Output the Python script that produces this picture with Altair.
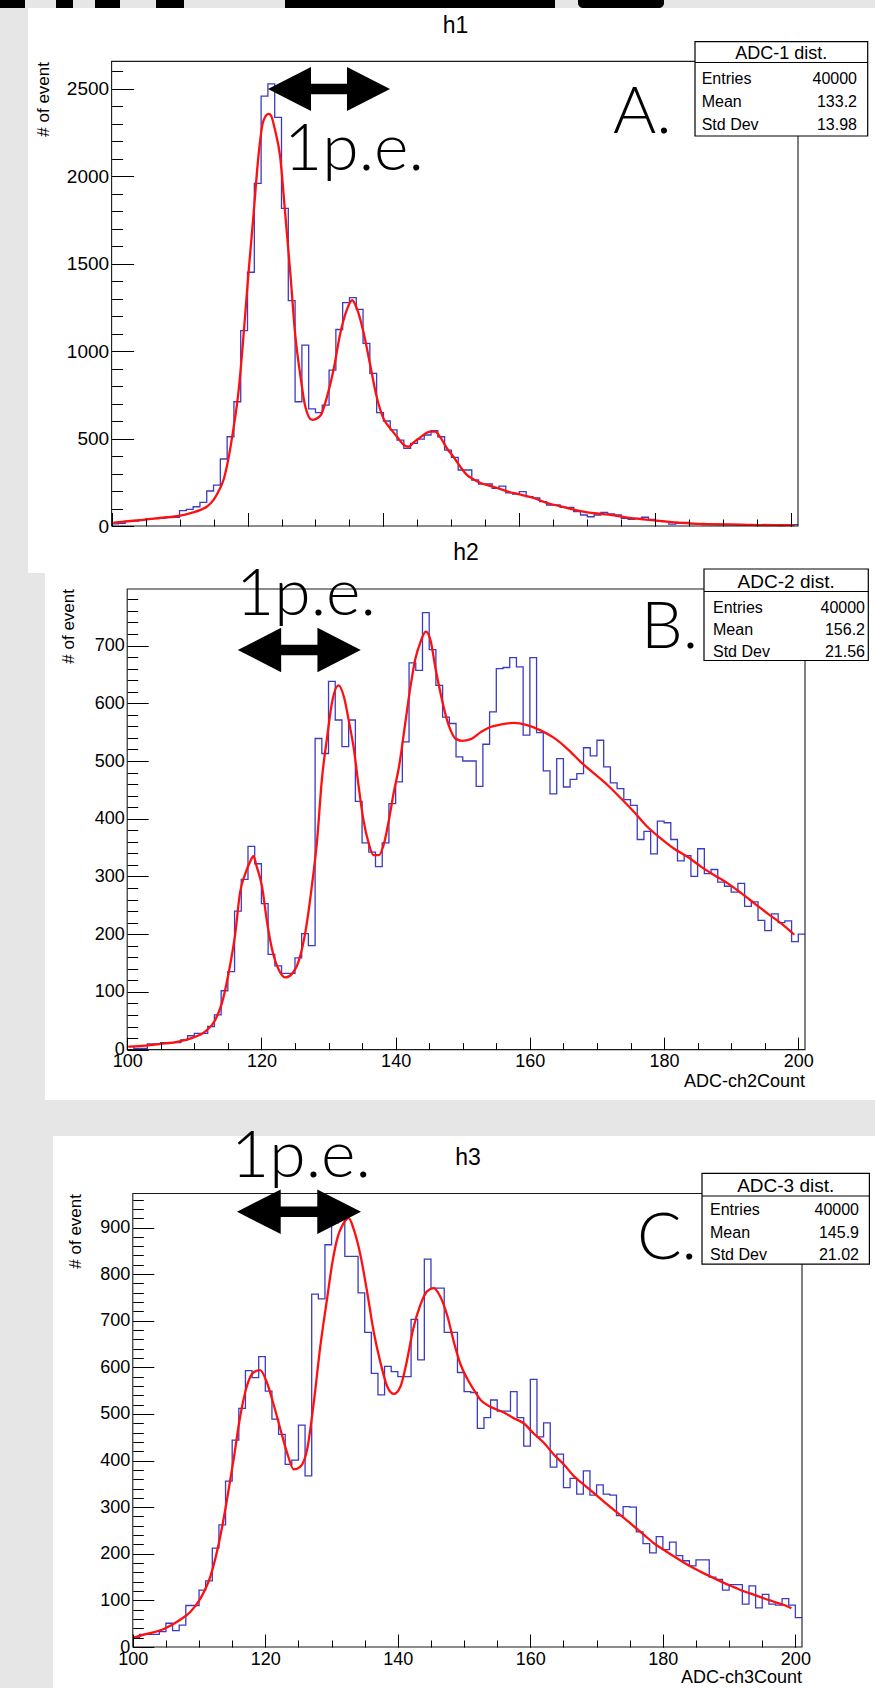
import altair as alt
import pandas as pd

W, H = 875, 1688
FONT = "Liberation Sans"
BIG_FONT = "Lato"
BLUE = "#3b3bc4"
RED = "#ff1010"
BG = "#e6e6e6"

# ---------------- data ----------------
BIN_LEFT = list(range(100, 201))
BIN_END = 201

COUNTS_1 = [12, 15, 28, 28, 35, 40, 42, 45, 48, 50,
            88, 95, 110, 135, 200, 234, 383, 510, 710, 1116,
            1450, 1958, 2457, 2526, 2335, 1815, 1288, 710, 1034, 669,
            648, 691, 891, 1123, 1276, 1305, 1238, 1044, 872, 648,
            600, 549, 491, 444, 472, 497, 520, 545, 510, 434,
            392, 320, 320, 263, 240, 240, 215, 228, 189, 183,
            196, 168, 160, 139, 120, 120, 107, 107, 82, 63,
            53, 63, 78, 69, 63, 44, 38, 44, 50, 38,
            30, 25, 11, 15, 21, 12, 10, 8, 8, 7,
            6, 6, 5, 5, 5, 4, 4, 4, 3, 8,
            8]
COUNTS_2 = [5, 2, 2, 10, 10, 12, 12, 12, 17, 24,
            28, 28, 40, 60, 102, 135, 240, 295, 352, 322,
            253, 165, 145, 132, 132, 159, 201, 180, 539, 513,
            638, 571, 525, 571, 430, 358, 342, 317, 358, 426,
            464, 533, 670, 657, 757, 693, 631, 576, 565, 507,
            500, 500, 456, 529, 585, 660, 662, 679, 663, 545,
            679, 549, 483, 443, 504, 455, 468, 478, 523, 509,
            536, 490, 462, 452, 433, 423, 364, 378, 339, 396,
            393, 364, 327, 336, 300, 348, 305, 312, 290, 283,
            273, 288, 248, 256, 224, 206, 235, 220, 223, 187,
            200]
COUNTS_3 = [20, 27, 27, 27, 33, 51, 35, 47, 89, 89,
            122, 142, 212, 262, 356, 444, 512, 593, 578, 623,
            549, 489, 456, 392, 401, 476, 367, 757, 747, 863,
            910, 920, 838, 838, 760, 675, 587, 541, 602, 591,
            580, 580, 703, 616, 832, 770, 770, 675, 675, 589,
            548, 546, 469, 492, 530, 506, 506, 548, 492, 431,
            574, 451, 481, 386, 414, 342, 362, 328, 378, 326,
            348, 328, 326, 282, 301, 300, 247, 222, 202, 237,
            209, 225, 196, 185, 174, 187, 187, 150, 145, 122,
            134, 134, 92, 131, 84, 113, 92, 90, 104, 90,
            63]

FIT1_X = [100.25, 103.2, 105.2, 108.1, 110.1, 112.0, 113.0, 114.0, 115.0, 115.7,
          116.5, 117.2, 117.9, 118.7, 119.4, 120.1, 120.9, 121.6, 122.3, 123.1,
          123.4, 124.1, 124.8, 125.5, 126.3, 127.0, 127.8, 128.5, 129.5, 130.7,
          131.7, 132.7, 133.6, 134.6, 135.4, 136.1, 137.1, 138.1, 139.0, 140.0,
          141.0, 142.0, 143.0, 143.7, 144.4, 145.4, 146.9, 147.6, 148.4, 149.4,
          150.3, 151.3, 152.3, 153.3, 154.3, 156.3, 158.2, 160.2, 162.1, 164.1,
          166.1, 168.0, 170.0, 172.0, 173.9, 175.9, 177.9, 179.8, 182.8, 185.7,
          187.7, 192.6, 197.5, 200.5]
FIT1_Y = [19, 30, 38, 50, 59, 78, 91, 110, 149, 196,
          267, 387, 549, 777, 1082, 1425, 1787, 2111, 2311, 2355,
          2349, 2254, 2111, 1806, 1444, 1101, 853, 682, 606, 629,
          739, 901, 1092, 1234, 1290, 1242, 1101, 910, 739, 615,
          558, 510, 463, 453, 476, 506, 539, 539, 505, 440,
          396, 339, 291, 266, 246, 223, 198, 179, 160, 131,
          112, 93, 78, 69, 61, 48, 40, 32, 21, 13,
          11, 8, 5, 5]

FIT2_X = [100.2, 102.7, 105.1, 107.6, 109.6, 111.6, 113.1, 114.1, 115.1, 116.1,
          116.8, 117.6, 118.3, 118.8, 119.3, 120.1, 120.8, 121.6, 122.6, 123.6,
          124.6, 125.6, 126.6, 127.5, 128.3, 129.0, 129.8, 130.5, 131.5, 132.3,
          133.0, 133.8, 134.5, 135.2, 136.0, 136.7, 137.5, 138.2, 139.0, 139.7,
          140.5, 141.5, 142.2, 142.9, 143.7, 144.5, 145.2, 145.9, 146.7, 147.4,
          148.2, 148.9, 149.9, 151.2, 152.7, 154.1, 155.6, 157.6, 159.6, 161.6,
          163.6, 165.6, 167.6, 169.6, 171.6, 173.6, 175.5, 177.5, 179.5, 181.5,
          183.5, 185.5, 187.5, 189.5, 191.5, 193.5, 195.4, 197.4, 199.4]
FIT2_Y = [5, 7, 10, 14, 20, 31, 51, 80, 132, 201,
          271, 305, 325, 335, 317, 282, 224, 173, 138, 125,
          132, 155, 207, 282, 363, 467, 542, 600, 631, 611,
          571, 519, 455, 398, 357, 337, 337, 354, 398, 444,
          490, 571, 628, 675, 706, 724, 709, 663, 617, 582,
          553, 539, 535, 538, 550, 559, 563, 566, 562, 553,
          540, 521, 498, 478, 458, 435, 412, 386, 366, 348,
          334, 317, 302, 288, 271, 253, 236, 219, 199]

FIT3_X = [100.1, 102.1, 104.6, 107.1, 108.6, 110.2, 111.7, 113.2, 114.2, 115.2,
          116.2, 117.2, 118.2, 119.2, 120.2, 121.2, 122.3, 123.3, 124.3, 125.3,
          126.3, 127.3, 128.3, 129.3, 130.1, 130.8, 131.8, 132.6, 133.3, 134.4,
          135.4, 136.4, 137.4, 138.4, 139.4, 140.4, 141.3, 142.3, 143.4, 144.4,
          145.4, 146.4, 147.5, 148.5, 149.5, 150.5, 151.5, 152.5, 153.5, 154.5,
          156.0, 157.5, 159.0, 160.5, 162.1, 163.6, 165.1, 166.6, 168.1, 169.6,
          171.1, 172.6, 174.2, 175.7, 177.2, 178.7, 180.2, 181.7, 183.2, 184.7,
          186.2, 187.8, 189.3, 190.8, 192.3, 193.8, 195.3, 196.8, 198.3, 199.4]
FIT3_Y = [20, 28, 38, 58, 74, 104, 151, 237, 315, 401,
          494, 559, 589, 594, 569, 523, 466, 416, 381, 387,
          423, 523, 645, 745, 823, 873, 909, 920, 898, 838,
          759, 673, 609, 559, 543, 559, 609, 681, 734, 763,
          770, 752, 709, 652, 605, 575, 551, 530, 519, 512,
          503, 491, 480, 458, 437, 412, 391, 366, 348, 330,
          312, 294, 276, 258, 240, 222, 208, 194, 181, 169,
          158, 147, 137, 128, 119, 112, 104, 97, 90, 83]

X_LABELS = [100, 120, 140, 160, 180, 200]
X_MINOR = list(range(100, 201, 5))
Y1_LABELS = [0, 500, 1000, 1500, 2000, 2500]
Y1_MINOR = list(range(0, 2601, 100))
Y2_LABELS = [0, 100, 200, 300, 400, 500, 600, 700]
Y2_MINOR = list(range(0, 781, 20))
Y3_LABELS = [0, 100, 200, 300, 400, 500, 600, 700, 800, 900]
Y3_MINOR = list(range(0, 961, 20))

TITLES = ["h1", "h2", "h3"]
STAT_NAMES = ["ADC-1 dist.", "ADC-2 dist.", "ADC-3 dist."]
ENTRIES = [40000, 40000, 40000]
MEANS = [133.2, 156.2, 145.9]
STDS = [13.98, 21.56, 21.02]
LETTERS = ["A.", "B.", "C."]
X_TITLES = ["", "ADC-ch2Count", "ADC-ch3Count"]
Y_TITLE = "# of event"
PE_LABEL = "1p.e."
ROW_NAMES = ["Entries", "Mean", "Std Dev"]

ONE = pd.DataFrame({"k": [0]})
ARROW_PATH = ("M-1,0L-0.295,-0.36L-0.295,-0.085L0.295,-0.085L0.295,-0.36L1,0"
              "L0.295,0.36L0.295,0.085L-0.295,0.085L-0.295,0.36Z")


def rect(x1, x2, y1, y2, fill="white", stroke=None, sw=1.0, radius=0):
    kw = dict(fill=fill, strokeWidth=(sw if stroke else 0))
    if stroke:
        kw["stroke"] = stroke
    if radius:
        kw["cornerRadius"] = radius
    return alt.Chart(ONE).mark_rect(**kw).encode(
        x=alt.value(x1), x2=alt.value(x2), y=alt.value(y1), y2=alt.value(y2))


def hline(x1, x2, y, color="black", sw=1.0):
    return alt.Chart(ONE).mark_rule(color=color, strokeWidth=sw).encode(
        x=alt.value(x1), x2=alt.value(x2), y=alt.value(y))


def text(s, x, y, size, align="left", font=FONT, angle=0, baseline="alphabetic", weight=None):
    kw = dict(text=s, fontSize=size, align=align, font=font, baseline=baseline, color="black")
    if angle:
        kw["angle"] = angle
    if weight:
        kw["fontWeight"] = weight
    return alt.Chart(ONE).mark_text(**kw).encode(x=alt.value(x), y=alt.value(y))


def arrow(cx, cy, width):
    return alt.Chart(ONE).mark_point(shape=ARROW_PATH, filled=True, color="black",
                                     opacity=1, size=width * width, strokeWidth=0).encode(
        x=alt.value(cx), y=alt.value(cy))


def axis_labels(orient, offset, values, size, pad):
    return alt.Axis(orient=orient, offset=offset, values=values, format="d",
                    labelFont=FONT, labelFontSize=size, labelColor="black",
                    labelPadding=pad, labelFlush=False, labelOverlap=False,
                    ticks=False, domain=False, grid=False, title=None, zindex=1)


def axis_ticks(orient, offset, values, size):
    return alt.Axis(orient=orient, offset=offset, values=values, labels=False,
                    domain=False, grid=False, ticks=True, tickSize=size,
                    tickColor="black", tickWidth=1, title=None, zindex=1)


PANELS = [
    dict(bg=(28, 875, 8, 573), L=111.6, R=798.0, T=61.4, B=526.0, ymax=2655,
         counts=COUNTS_1, fx=FIT1_X, fy=FIT1_Y, ylab=Y1_LABELS, yminor=Y1_MINOR,
         lab_size=19, xlabels=False, ymaj=22, ymin=11, xmaj=13.5, xmin=7,
         title_xy=(455.6, 33), ytitle_xy=(49, 62),
         box=(695, 867.7, 41.7, 136, 62.5), box_title_base=59, box_title_size=18,
         row_left=701.7, row_right=857, row_bases=(83.5, 107, 130),
         letter_xy=(613, 133), pe_xy=(284, 170), arrow=(329, 89, 122), xtitle_xy=None),
    dict(bg=(45, 875, 536, 1100), L=127.2, R=805.0, T=589.0, B=1049.6, ymax=798,
         counts=COUNTS_2, fx=FIT2_X, fy=FIT2_Y, ylab=Y2_LABELS, yminor=Y2_MINOR,
         lab_size=18, xlabels=True, ymaj=21, ymin=10.5, xmaj=12.5, xmin=7,
         title_xy=(466, 560), ytitle_xy=(74, 589),
         box=(704, 868.3, 569, 660.5, 591.5), box_title_base=588, box_title_size=19,
         row_left=713, row_right=865, row_bases=(612.5, 635, 657),
         letter_xy=(641, 648), pe_xy=(236, 615), arrow=(299.3, 650, 123), xtitle_xy=(805, 1087)),
    dict(bg=(53, 875, 1136, 1688), L=132.8, R=802.0, T=1193.5, B=1647.0, ymax=973,
         counts=COUNTS_3, fx=FIT3_X, fy=FIT3_Y, ylab=Y3_LABELS, yminor=Y3_MINOR,
         lab_size=18, xlabels=True, ymaj=21, ymin=10.5, xmaj=13, xmin=7,
         title_xy=(468, 1165), ytitle_xy=(81, 1194),
         box=(702, 869.4, 1173.3, 1264.2, 1196), box_title_base=1192, box_title_size=19,
         row_left=710, row_right=859, row_bases=(1215, 1238, 1260),
         letter_xy=(637, 1259), pe_xy=(231, 1177), arrow=(299, 1211.7, 124), xtitle_xy=(802, 1683)),
]


def panel(i, p):
    L, R, T, B = p["L"], p["R"], p["T"], p["B"]
    xs = alt.Scale(domain=[100, BIN_END], range=[L, R], nice=False, zero=False)
    ys = alt.Scale(domain=[0, p["ymax"]], range=[B, T], nice=False, zero=False)
    hist_df = pd.DataFrame({"x": BIN_LEFT + [BIN_END], "y": p["counts"] + [p["counts"][-1]]})
    fit_df = pd.DataFrame({"x": p["fx"], "y": p["fy"]})
    frame_df = pd.DataFrame({"x": [100], "x2": [BIN_END], "y": [0], "y2": [p["ymax"]]})

    out = []
    bx1, bx2, by1, by2 = p["bg"]
    out.append(rect(bx1, bx2, by1, by2, fill="white"))

    xax = axis_labels("bottom", B - H, X_LABELS, p["lab_size"], 3) if p["xlabels"] else None
    hist = alt.Chart(hist_df).mark_line(interpolate="step-after", color=BLUE, strokeWidth=1.3).encode(
        x=alt.X("x:Q", scale=xs, axis=xax),
        y=alt.Y("y:Q", scale=ys, axis=axis_labels("left", -L, p["ylab"], p["lab_size"], 3)))
    fit = alt.Chart(fit_df).mark_line(interpolate="monotone", color=RED, strokeWidth=2.3).encode(
        x=alt.X("x:Q", scale=xs, axis=axis_ticks("top", -B, X_LABELS, p["xmaj"])),
        y=alt.Y("y:Q", scale=ys, axis=axis_ticks("right", L - W, p["ylab"], p["ymaj"])))
    frame = alt.Chart(frame_df).mark_rect(fillOpacity=0, stroke="#1a1a1a", strokeWidth=1.1).encode(
        x=alt.X("x:Q", scale=xs, axis=axis_ticks("top", -B, X_MINOR, p["xmin"])),
        x2="x2:Q",
        y=alt.Y("y:Q", scale=ys, axis=axis_ticks("right", L - W, p["yminor"], p["ymin"])),
        y2="y2:Q")
    out += [hist, fit, frame]

    # texts
    tx, ty = p["title_xy"]
    out.append(text(TITLES[i], tx, ty, 23, align="center"))
    yx, yy = p["ytitle_xy"]
    out.append(text(Y_TITLE, yx, yy, 17, align="right", angle=270))
    if p["xtitle_xy"]:
        xx, xy = p["xtitle_xy"]
        out.append(text(X_TITLES[i], xx, xy, 18, align="right"))

    # stat box
    x1, x2, y1, y2, sep = p["box"]
    out.append(rect(x1, x2, y1, y2, fill="white", stroke="black", sw=1.2))
    out.append(hline(x1, x2, sep, sw=1.2))
    out.append(text(STAT_NAMES[i], (x1 + x2) / 2, p["box_title_base"], p["box_title_size"], align="center"))
    vals = [str(ENTRIES[i]), f"{MEANS[i]:.1f}", f"{STDS[i]:.2f}"]
    for name, val, yb in zip(ROW_NAMES, vals, p["row_bases"]):
        out.append(text(name, p["row_left"], yb, 16))
        out.append(text(val, p["row_right"], yb, 16, align="right"))

    # annotations
    lx, ly = p["letter_xy"]
    out.append(text(LETTERS[i], lx, ly, 66, font=BIG_FONT, weight=300))
    px, py = p["pe_xy"]
    out.append(text(PE_LABEL, px, py, 66, font=BIG_FONT, weight=300))
    ax, ay, aw = p["arrow"]
    out.append(arrow(ax, ay, aw))
    return out


layers = []
# bits of giant black lettering cut off at the very top of the page
for (a, b) in [(0, 25), (56, 73), (95, 120), (156, 184), (285, 555)]:
    layers.append(rect(a, b, -4, 8, fill="black"))
layers.append(rect(578, 664, -4, 8, fill="black", radius=5))

for i, p in enumerate(PANELS):
    layers += panel(i, p)

chart = alt.layer(*layers).resolve_scale(x="independent", y="independent").properties(
    width=W, height=H, background=BG, padding=0,
    autosize=alt.AutoSizeParams(type="none"),
).configure_view(strokeWidth=0)

chart.save("out.html", embed_options={"renderer": "svg", "actions": False})
